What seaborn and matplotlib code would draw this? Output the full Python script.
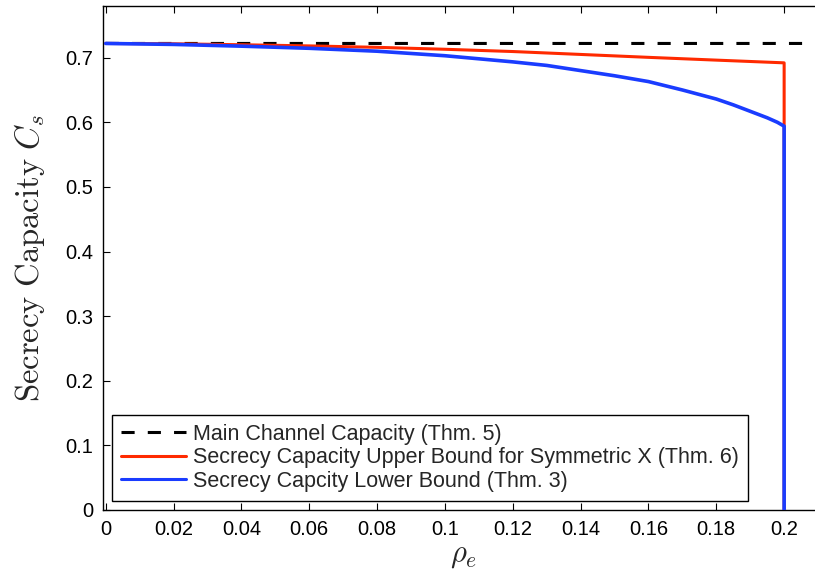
import numpy as np
import pandas as pd
import matplotlib
matplotlib.use("Agg")
import matplotlib.pyplot as plt
import seaborn as sns

# ---- data ----
main_x = [0.0, 0.21]
main_y = [0.722, 0.722]

upper_x = [0.0, 0.02, 0.04, 0.06, 0.08, 0.10, 0.12, 0.14, 0.16, 0.18, 0.20, 0.20]
upper_y = [0.722, 0.7215, 0.7200, 0.7182, 0.7160, 0.7130, 0.7095, 0.7050, 0.7005,
           0.6962, 0.692, 0.0]

lower_x = [0.0, 0.02, 0.04, 0.06, 0.08, 0.10, 0.12, 0.13, 0.14, 0.15, 0.16, 0.17,
           0.18, 0.185, 0.19, 0.195, 0.198, 0.20, 0.20]
lower_y = [0.722, 0.7205, 0.7178, 0.7145, 0.710, 0.703, 0.6935, 0.688, 0.680, 0.672,
           0.663, 0.650, 0.636, 0.627, 0.617, 0.607, 0.600, 0.594, 0.0]

labels = ["Main Channel Capacity (Thm. 5)",
          "Secrecy Capacity Upper Bound for Symmetric X (Thm. 6)",
          "Secrecy Capcity Lower Bound (Thm. 3)"]

xticks = [0, 0.02, 0.04, 0.06, 0.08, 0.1, 0.12, 0.14, 0.16, 0.18, 0.2]
xtick_labels = ["0", "0.02", "0.04", "0.06", "0.08", "0.1", "0.12", "0.14", "0.16", "0.18", "0.2"]
yticks = [0, 0.1, 0.2, 0.3, 0.4, 0.5, 0.6, 0.7]
ytick_labels = ["0", "0.1", "0.2", "0.3", "0.4", "0.5", "0.6", "0.7"]

sns.set_theme(style="ticks")
plt.rcParams["font.family"] = ["Liberation Sans", "DejaVu Sans"]
plt.rcParams["mathtext.fontset"] = "cm"

fig = plt.figure(figsize=(8.15, 5.8), dpi=100)
ax = fig.add_axes([0.1264, 0.1207, 0.8836, 0.869])

df_main = pd.DataFrame({"x": main_x, "y": main_y})
df_up = pd.DataFrame({"x": upper_x, "y": upper_y})
df_lo = pd.DataFrame({"x": lower_x, "y": lower_y})

lw = 2.2
sns.lineplot(data=df_main, x="x", y="y", ax=ax, color="black", lw=lw,
             sort=False, estimator=None, label=labels[0], zorder=2)
ax.lines[-1].set_dashes([4.3, 4.3])
sns.lineplot(data=df_up, x="x", y="y", ax=ax, color="#ff2a00", lw=lw,
             sort=False, estimator=None, label=labels[1], zorder=3)
sns.lineplot(data=df_lo, x="x", y="y", ax=ax, color="#1a3cff", lw=2.6,
             sort=False, estimator=None, label=labels[2], zorder=4)
for ln in ax.lines:
    ln.set_solid_joinstyle("round")
    ln.set_snap(False)

ax.set_xlim(-0.0008, 0.2115)
ax.set_ylim(0, 0.78)
ax.set_xticks(xticks)
ax.set_xticklabels(xtick_labels)
ax.set_yticks(yticks)
ax.set_yticklabels(ytick_labels)
ax.tick_params(direction="in", length=5, width=0.8, labelsize=14.5, colors="black",
               top=True, right=True, pad=7)

for s in ax.spines.values():
    s.set_linewidth(1.0)
    s.set_color("black")

ax.set_xlabel(r"$\rho_e$", fontsize=22, labelpad=1)
ax.set_ylabel(r"$\mathrm{Secrecy\ Capacity}\ C_s$", fontsize=23.5, labelpad=13)

leg = ax.legend(loc="lower left", bbox_to_anchor=(0.013, 0.018), fontsize=15.5,
                frameon=True, fancybox=False, framealpha=1, edgecolor="black",
                handlelength=3.0, handletextpad=0.33, labelspacing=0.12,
                borderpad=0.42, borderaxespad=0)
leg.get_frame().set_linewidth(1.0)
for h in leg.get_lines():
    h.set_linewidth(2.2)

fig.savefig("out.png", dpi=100)
